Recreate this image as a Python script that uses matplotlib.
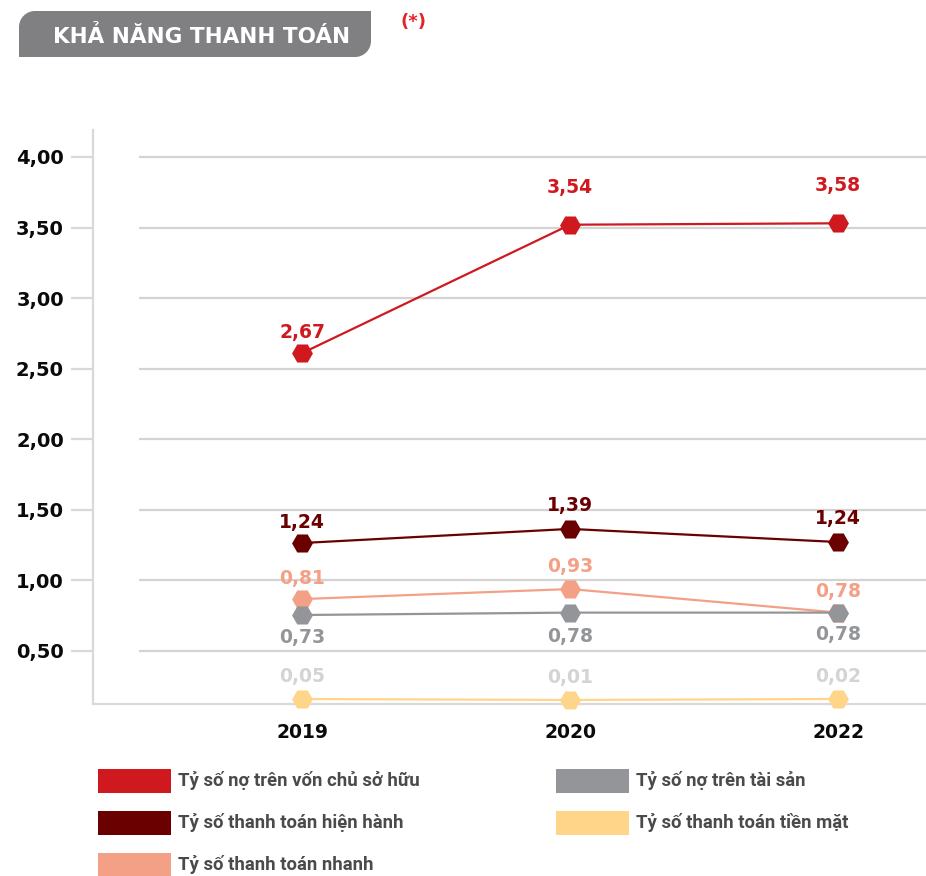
import matplotlib
matplotlib.use("Agg")
import matplotlib.pyplot as plt
from matplotlib.path import Path
from matplotlib.patches import PathPatch, Rectangle

# ---------------- data ----------------
years = ["2019", "2020", "2022"]
series_names = [
    "Tỷ số nợ trên vốn chủ sở hữu",
    "Tỷ số thanh toán hiện hành",
    "Tỷ số thanh toán nhanh",
    "Tỷ số nợ trên tài sản",
    "Tỷ số thanh toán tiền mặt",
]
# plotted positions
no_von_chu = [2.61, 3.52, 3.53]
hien_hanh = [1.265, 1.365, 1.272]
nhanh = [0.868, 0.939, 0.772]
no_tai_san = [0.755, 0.772, 0.772]
tien_mat = [0.160, 0.153, 0.160]
# printed labels
lbl_no_von_chu = ["2,67", "3,54", "3,58"]
lbl_hien_hanh = ["1,24", "1,39", "1,24"]
lbl_nhanh = ["0,81", "0,93", "0,78"]
lbl_no_tai_san = ["0,73", "0,78", "0,78"]
lbl_tien_mat = ["0,05", "0,01", "0,02"]
yticks = [0.5, 1.0, 1.5, 2.0, 2.5, 3.0, 3.5, 4.0]
ytick_labels = ["0,50", "1,00", "1,50", "2,00", "2,50", "3,00", "3,50", "4,00"]

# ---------------- style ----------------
RED = "#d0191f"
DARK = "#6b0000"
SALMON = "#f4a086"
GRAY = "#939598"
YELLOW = "#ffd58a"
LBL_YELLOW = "#d4d4d4"
NUMFONT = "DejaVu Sans"

W, H = 926, 876
fig = plt.figure(figsize=(W / 100, H / 100), dpi=100)

ax_l, ax_r, ax_t, ax_b = 93, 926, 130, 704
ax = fig.add_axes([ax_l / W, 1 - ax_b / H, (ax_r - ax_l) / W, (ax_b - ax_t) / H])
ax.set_ylim(0.1245, 4.191)
ax.set_xlim(-0.78, 2.328)
x = list(range(len(years)))

for s in ["top", "right"]:
    ax.spines[s].set_visible(False)
for s in ["left", "bottom"]:
    ax.spines[s].set_color("#d9d9d9")
    ax.spines[s].set_linewidth(1.6)

ax.set_yticks(yticks)
ax.set_yticklabels(ytick_labels, fontfamily=NUMFONT, fontweight="bold", fontsize=14, color="#0a0a0a")
ax.tick_params(axis="y", length=16, width=1.6, color="#d9d9d9", pad=5)
ax.set_xticks(x)
ax.set_xticklabels(years, fontfamily=NUMFONT, fontweight="bold", fontsize=13.5, color="#0a0a0a")
ax.tick_params(axis="x", length=0, pad=14)

# gridlines starting a bit to the right of the axis
ax.hlines(yticks, 0.055, 1.0, transform=ax.get_yaxis_transform(), colors="#d3d3d3", lw=1.6, zorder=1)

series = [
    (tien_mat, lbl_tien_mat, YELLOW, LBL_YELLOW, [16, 16, 16]),
    (nhanh, lbl_nhanh, SALMON, SALMON, [15, 16, 15]),
    (no_tai_san, lbl_no_tai_san, GRAY, GRAY, [-16, -17, -16]),
    (hien_hanh, lbl_hien_hanh, DARK, DARK, [15, 17, 17]),
    (no_von_chu, lbl_no_von_chu, RED, RED, [15, 27, 27]),
]
for z, (vals, labels, col, lcol, dys) in enumerate(series):
    ax.plot(x, vals, color=col, lw=1.6, marker="H", markersize=15, markeredgewidth=0,
            zorder=3 + z, clip_on=False)
    for xi, v, t, dy in zip(x, vals, labels, dys):
        ax.annotate(t, (xi, v), xytext=(0, dy), textcoords="offset points",
                    ha="center", va="center", fontfamily=NUMFONT, fontweight="bold",
                    fontsize=13.5, color=lcol, zorder=10)

# ---------------- overlay: title + legend ----------------
ov = fig.add_axes([0, 0, 1, 1], zorder=-1)
ov.set_xlim(0, W)
ov.set_ylim(H, 0)
ov.axis("off")

# title box: rounded top-left and bottom-right corners
x0, x1, y0, y1, r = 19, 371, 11, 57, 16
k = 0.5523
verts = [
    (x0, y1), (x0, y0 + r),
    (x0, y0 + r - k * r), (x0 + r - k * r, y0), (x0 + r, y0),
    (x1, y0), (x1, y1 - r),
    (x1, y1 - r + k * r), (x1 - r + k * r, y1), (x1 - r, y1),
    (x0, y1), (x0, y1),
]
codes = [Path.MOVETO, Path.LINETO,
         Path.CURVE4, Path.CURVE4, Path.CURVE4,
         Path.LINETO, Path.LINETO,
         Path.CURVE4, Path.CURVE4, Path.CURVE4,
         Path.LINETO, Path.CLOSEPOLY]
ov.add_patch(PathPatch(Path(verts, codes), facecolor="#808083", edgecolor="none"))
ov.text(202, 36, "KHẢ NĂNG THANH TOÁN", ha="center", va="center", color="white",
        fontfamily=NUMFONT, fontweight="bold", fontsize=15.5)
ov.text(413, 22, "(*)", ha="center", va="center", color="#e0242a",
        fontfamily=NUMFONT, fontweight="bold", fontsize=13)

# legend
leg_cols = [RED, DARK, SALMON, GRAY, YELLOW]
leg_pos = [(98, 781), (98, 823), (98, 865), (556, 781), (556, 823)]
for name, col, (lx, ly) in zip(series_names, leg_cols, leg_pos):
    ov.add_patch(Rectangle((lx, ly - 12), 73, 24, facecolor=col, edgecolor="none"))
    ov.text(lx + 80, ly, name, ha="left", va="center", color="#4a4a4a",
            fontfamily="Roboto", fontweight="bold", fontsize=13.3)

fig.savefig("out.png", dpi=100)
